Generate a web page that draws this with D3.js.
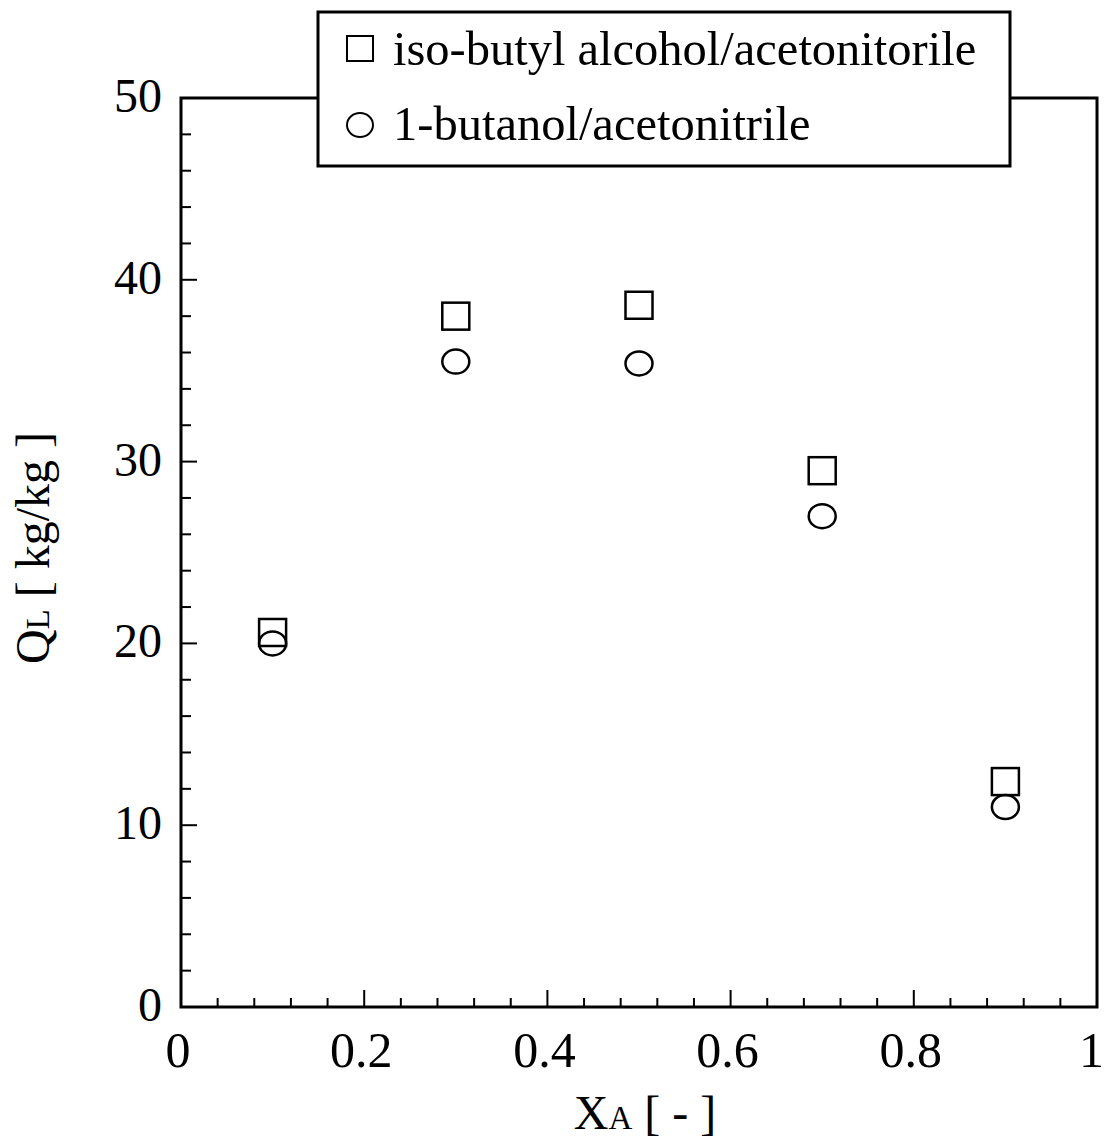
<!DOCTYPE html>
<html>
<head>
<meta charset="utf-8">
<script src="https://cdn.jsdelivr.net/npm/d3@7"></script>
<style>
  body { margin: 0; background: #fff; }
  svg text { font-family: "Liberation Serif", "DejaVu Serif", serif; fill: #000; }
</style>
</head>
<body>
<svg id="chart" width="1105" height="1147"></svg>
<script>
// values
const xa = [0.1, 0.3, 0.5, 0.7, 0.9];
const isoButyl = [20.6, 38.0, 38.6, 29.5, 12.4];
const butanol = [20.0, 35.5, 35.4, 27.0, 11.0];
const xTicks = [0, 0.2, 0.4, 0.6, 0.8, 1];
const yTicks = [0, 10, 20, 30, 40, 50];
const legendLabels = ["iso-butyl alcohol/acetonitorile", "1-butanol/acetonitrile"];

const svg = d3.select('#chart');
const plotLeft = 181, plotRight = 1097, plotTop = 98, plotBottom = 1007;

const x = d3.scaleLinear().domain([0, 1]).range([plotLeft, plotRight]);
const y = d3.scaleLinear().domain([0, 50]).range([plotBottom, plotTop]);

// minor ticks
const xMinor = d3.range(0, 1.0001, 0.04).filter(v => Math.abs(v * 5 - Math.round(v * 5)) > 1e-6);
const yMinor = d3.range(0, 50.001, 2).filter(v => v % 10 !== 0);

const g = svg.append('g');

g.selectAll('.xminor').data(xMinor).enter().append('line')
  .attr('x1', d => x(d)).attr('x2', d => x(d))
  .attr('y1', plotBottom).attr('y2', plotBottom - 9)
  .attr('stroke', '#000').attr('stroke-width', 2);
g.selectAll('.xmajor').data(xTicks).enter().append('line')
  .attr('x1', d => x(d)).attr('x2', d => x(d))
  .attr('y1', plotBottom).attr('y2', plotBottom - 17)
  .attr('stroke', '#000').attr('stroke-width', 2);
g.selectAll('.yminor').data(yMinor).enter().append('line')
  .attr('x1', plotLeft).attr('x2', plotLeft + 10)
  .attr('y1', d => y(d)).attr('y2', d => y(d))
  .attr('stroke', '#000').attr('stroke-width', 2);
g.selectAll('.ymajor').data(yTicks).enter().append('line')
  .attr('x1', plotLeft).attr('x2', plotLeft + 16)
  .attr('y1', d => y(d)).attr('y2', d => y(d))
  .attr('stroke', '#000').attr('stroke-width', 2);

// frame
g.append('rect')
  .attr('x', plotLeft).attr('y', plotTop)
  .attr('width', plotRight - plotLeft).attr('height', plotBottom - plotTop)
  .attr('fill', 'none').attr('stroke', '#000').attr('stroke-width', 3);

// tick labels
g.selectAll('.xlab').data(xTicks).enter().append('text')
  .attr('x', d => d === 1 ? 1104 : x(d) - 3)
  .attr('y', plotBottom + 60)
  .attr('text-anchor', d => d === 1 ? 'end' : 'middle')
  .attr('font-size', 50)
  .text(d => d3.format('')(d));
g.selectAll('.ylab').data(yTicks).enter().append('text')
  .attr('x', plotLeft - 19).attr('y', d => y(d) + 14)
  .attr('text-anchor', 'end')
  .attr('font-size', 48)
  .text(d => d);

// axis titles
const xt = g.append('text')
  .attr('x', 645).attr('y', 1129)
  .attr('text-anchor', 'middle')
  .attr('font-size', 48);
xt.append('tspan').text('X');
xt.append('tspan').attr('font-size', 33).text('A');
xt.append('tspan').text(' [ - ]');

const yt = g.append('text')
  .attr('transform', 'translate(49,548) rotate(-90)')
  .attr('text-anchor', 'middle')
  .attr('font-size', 48);
yt.append('tspan').text('Q');
yt.append('tspan').attr('font-size', 33).text('L');
yt.append('tspan').text(' [ kg/kg ]');

// markers
const sq = 27;
g.selectAll('.sq').data(xa).enter().append('rect')
  .attr('x', d => x(d) - sq / 2)
  .attr('y', (d, i) => y(isoButyl[i]) - sq / 2)
  .attr('width', sq).attr('height', sq)
  .attr('fill', 'none').attr('stroke', '#000').attr('stroke-width', 2.5);
g.selectAll('.ci').data(xa).enter().append('ellipse')
  .attr('cx', d => x(d))
  .attr('cy', (d, i) => y(butanol[i]))
  .attr('rx', 13.5).attr('ry', 12)
  .attr('fill', 'none').attr('stroke', '#000').attr('stroke-width', 2.5);

// legend
const lg = svg.append('g');
lg.append('rect')
  .attr('x', 318).attr('y', 12).attr('width', 692).attr('height', 154)
  .attr('fill', '#fff').attr('stroke', '#000').attr('stroke-width', 3);
lg.append('rect')
  .attr('x', 347).attr('y', 36).attr('width', 26).attr('height', 25)
  .attr('fill', 'none').attr('stroke', '#000').attr('stroke-width', 2);
lg.append('ellipse')
  .attr('cx', 360).attr('cy', 125).attr('rx', 13).attr('ry', 12)
  .attr('fill', 'none').attr('stroke', '#000').attr('stroke-width', 2);
lg.selectAll('.lt').data(legendLabels).enter().append('text')
  .attr('x', 393).attr('y', (d, i) => 65 + i * 75)
  .attr('font-size', 48.5)
  .text(d => d);
</script>
</body>
</html>
